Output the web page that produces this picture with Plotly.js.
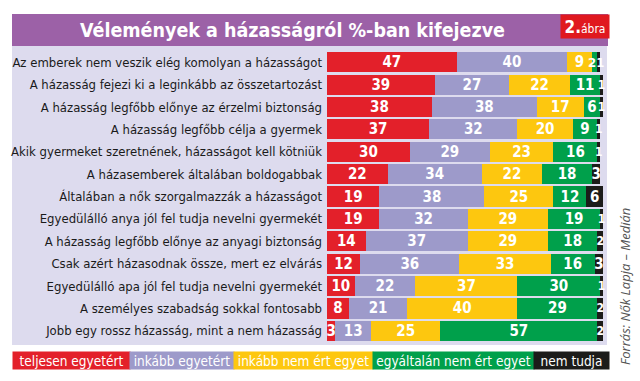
<!DOCTYPE html>
<html><head><meta charset="utf-8">
<script src="https://cdn.plot.ly/plotly-3.0.1.min.js"></script>
<style>html,body{margin:0;padding:0;background:#fff}#chart{width:640px;height:381px}</style>
</head><body><div id="chart"></div>
<script>
const categories = [
 "Az emberek nem veszik elég komolyan a házasságot",
 "A házasság fejezi ki a leginkább az összetartozást",
 "A házasság legfőbb előnye az érzelmi biztonság",
 "A házasság legfőbb célja a gyermek",
 "Akik gyermeket szeretnének, házasságot kell kötniük",
 "A házasemberek általában boldogabbak",
 "Általában a nők szorgalmazzák a házasságot",
 "Egyedülálló anya jól fel tudja nevelni gyermekét",
 "A házasság legfőbb előnye az anyagi biztonság",
 "Csak azért házasodnak össze, mert ez elvárás",
 "Egyedülálló apa jól fel tudja nevelni gyermekét",
 "A személyes szabadság sokkal fontosabb",
 "Jobb egy rossz házasság, mint a nem házasság"
];
const seriesNames = ["teljesen egyetért","inkább egyetért","inkább nem ért egyet","egyáltalán nem ért egyet","nem tudja"];
const teljesenEgyetert   = [47,39,38,37,30,22,19,19,14,12,10,8,3];
const inkabbEgyetert     = [40,27,38,32,29,34,38,32,37,36,22,21,13];
const inkabbNemErtEgyet  = [9,22,17,20,23,22,25,29,29,33,37,40,25];
const egyaltalanNem      = [2,11,6,9,16,18,12,19,18,16,30,29,57];
const nemTudja           = [1,1,1,1,1,3,6,1,2,3,1,2,2];
const seriesValues = [teljesenEgyetert,inkabbEgyetert,inkabbNemErtEgyet,egyaltalanNem,nemTudja];
const colors = ["#e3202a","#9d9aca","#fdc70f","#00a04b","#1c1c1a"];

const W=640,H=381, L=327, R=603, T=51, B=342;
const px = x => (x-L)/(R-L);
const py = y => 1-(y-T)/(B-T);
const NARROW = "'DejaVu Sans Condensed','Liberation Sans Narrow',sans-serif";
const BARFONT = {family:NARROW, size:15, color:'#ffffff', weight:'bold'};

// rows where the last two segments are both too thin get one merged label
const merged = categories.map((c,r) => egyaltalanNem[r] <= 2);

const traces = seriesValues.map((vals,i)=>({
  type:'bar', orientation:'h', name:seriesNames[i],
  x:vals, y:categories,
  marker:{color:colors[i], line:{width:0}},
  text:vals.map((v,r) => (i>=3 && merged[r]) ? '' : String(v)),
  textposition:'inside', insidetextanchor:'middle',
  constraintext:'none', textangle:0, cliponaxis:false,
  textfont:Object.assign({}, BARFONT, {size:vals.map(v => v <= 2 ? 12 : 15)}),
  hoverinfo:'skip'
}));

const annotations = [];
categories.forEach((c,r) => {
  if (!merged[r]) return;
  const start = teljesenEgyetert[r] + inkabbEgyetert[r] + inkabbNemErtEgyet[r];
  const end = start + egyaltalanNem[r] + nemTudja[r];
  annotations.push({xref:'x', yref:'y', x:(start+end)/2, y:c, xanchor:'center', yanchor:'middle',
    showarrow:false, text:String(egyaltalanNem[r]) + String(nemTudja[r]),
    font:Object.assign({}, BARFONT, {size:13})});
});

const legendEdges=[12,129,233,372,533,608];
seriesNames.forEach((n,i)=>annotations.push({
  xref:'paper', yref:'paper', x:px(legendEdges[i]), y:py(351),
  xanchor:'left', yanchor:'top', width:legendEdges[i+1]-legendEdges[i], height:17,
  bgcolor:colors[i], borderpad:0, showarrow:false, align:'center', valign:'middle',
  text:n, font:{family:NARROW, size:13.5, color:'#ffffff'}
}));
annotations.push({
  xref:'paper', yref:'paper', x:px(292), y:py(30), xanchor:'center', yanchor:'middle',
  showarrow:false, text:'Vélemények a házasságról %-ban kifejezve',
  font:{family:NARROW, size:19.5, color:'#ffffff', weight:'bold'}
});
annotations.push({
  xref:'paper', yref:'paper', x:px(560), y:py(14), xanchor:'left', yanchor:'top',
  width:48, height:23, bgcolor:'#e0191f', borderpad:0, showarrow:false,
  text:'<b><span style="font-size:17px">2.</span></b><span style="font-size:12px">ábra</span>',
  font:{family:NARROW, size:12, color:'#ffffff'}
});
annotations.push({
  xref:'paper', yref:'paper', x:px(625), y:py(287), xanchor:'center', yanchor:'middle',
  showarrow:false, textangle:-90, text:'<i>Forrás: Nők Lapja – Medián</i>',
  font:{family:"'Open Sans',sans-serif", size:13, color:'#555555'}
});

const shapes=[
  {type:'rect', xref:'paper', yref:'paper', x0:px(12), x1:px(607), y0:py(345), y1:py(46), fillcolor:'#dddbee', line:{width:0}, layer:'below'},
  {type:'rect', xref:'paper', yref:'paper', x0:px(12), x1:px(608), y0:py(46), y1:py(14), fillcolor:'#9c61a7', line:{width:0}, layer:'below'}
];

const layout={
  width:W, height:H, margin:{l:L, r:W-R, t:T, b:H-B, pad:0},
  paper_bgcolor:'#ffffff', plot_bgcolor:'rgba(0,0,0,0)',
  barmode:'stack', bargap:0.1, showlegend:false,
  xaxis:{range:[0,100], visible:false, fixedrange:true},
  yaxis:{type:'category', autorange:'reversed', showgrid:false, zeroline:false, showline:false,
    ticks:'', ticklabelstandoff:4, tickfont:{family:NARROW, size:13, color:'#1a1a1a'}, fixedrange:true},
  shapes:shapes, annotations:annotations
};
Plotly.newPlot('chart', traces, layout, {displayModeBar:false, staticPlot:true});
</script></body></html>
